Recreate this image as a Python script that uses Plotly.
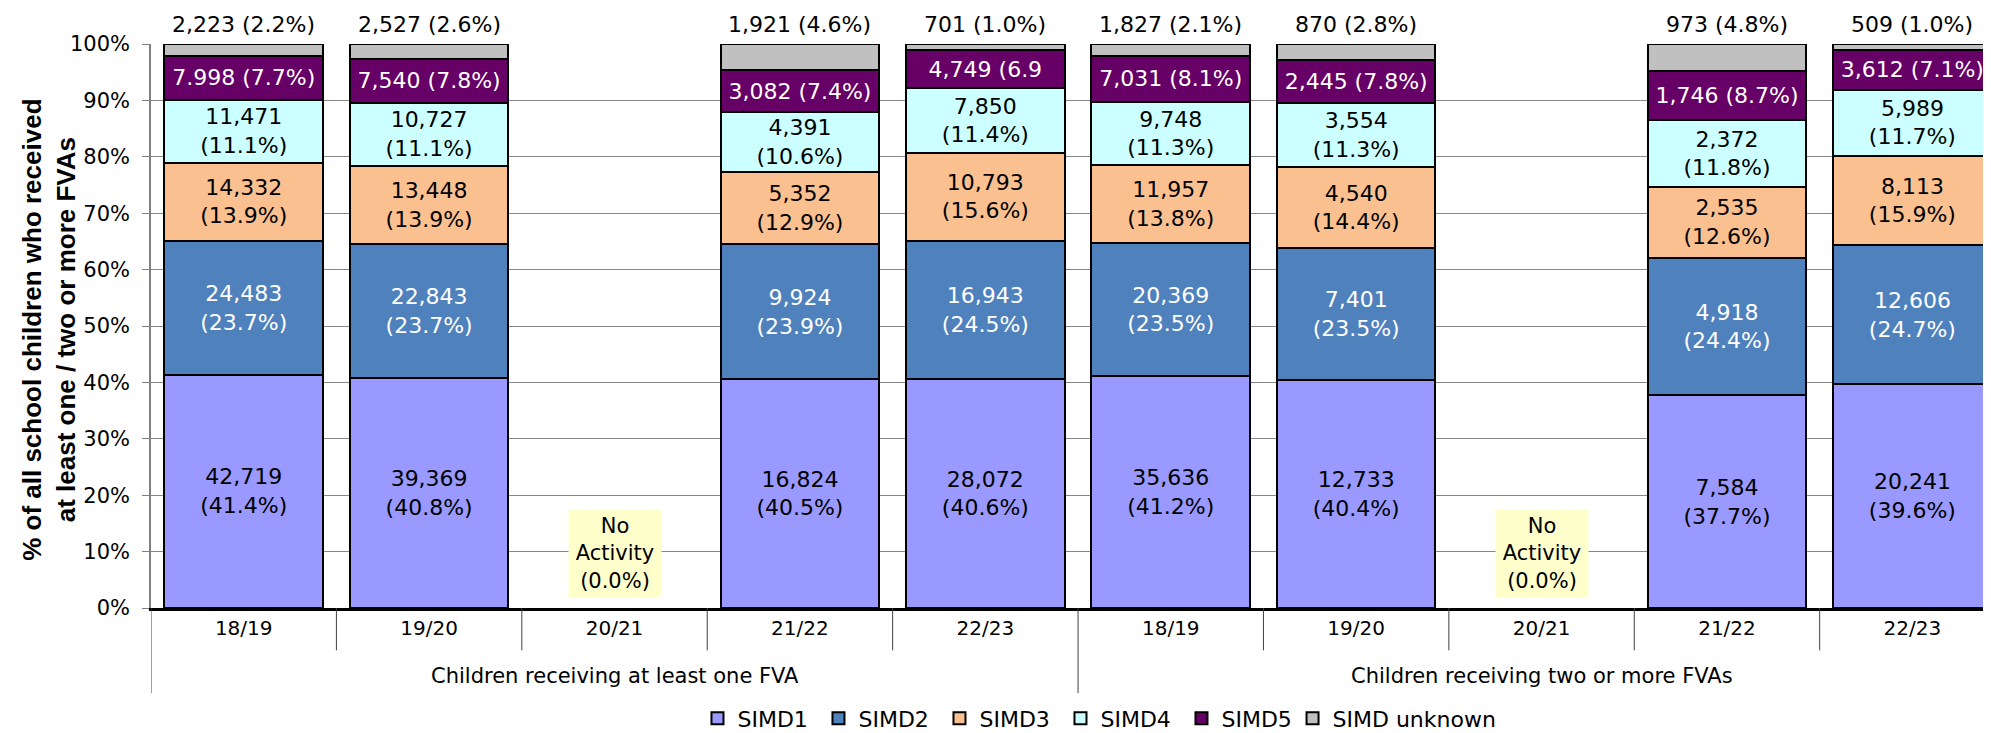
import plotly.graph_objects as go

# ---------------- data ----------------
groups = ["Children receiving at least one FVA"] * 5 + ["Children receiving two or more FVAs"] * 5
periods = ["18/19", "19/20", "20/21", "21/22", "22/23"] * 2

simd1 = [42719, 39369, None, 16824, 28072, 35636, 12733, None, 7584, 20241]
simd1_pct = [41.4, 40.8, None, 40.5, 40.6, 41.2, 40.4, None, 37.7, 39.6]
simd2 = [24483, 22843, None, 9924, 16943, 20369, 7401, None, 4918, 12606]
simd2_pct = [23.7, 23.7, None, 23.9, 24.5, 23.5, 23.5, None, 24.4, 24.7]
simd3 = [14332, 13448, None, 5352, 10793, 11957, 4540, None, 2535, 8113]
simd3_pct = [13.9, 13.9, None, 12.9, 15.6, 13.8, 14.4, None, 12.6, 15.9]
simd4 = [11471, 10727, None, 4391, 7850, 9748, 3554, None, 2372, 5989]
simd4_pct = [11.1, 11.1, None, 10.6, 11.4, 11.3, 11.3, None, 11.8, 11.7]
simd5 = [7998, 7540, None, 3082, 4749, 7031, 2445, None, 1746, 3612]
simd5_pct = [7.7, 7.8, None, 7.4, 6.9, 8.1, 7.8, None, 8.7, 7.1]
unknown = [2223, 2527, None, 1921, 701, 1827, 870, None, 973, 509]
unknown_pct = [2.2, 2.6, None, 4.6, 1.0, 2.1, 2.8, None, 4.8, 1.0]

# label text exactly as printed in the source (incl. its typos)
simd5_label_override = {0: "7.998 (7.7%)", 4: "4,749 (6.9"}

no_activity_label = "No<br>Activity<br>(0.0%)"
y_title = "% of all school children who received<br>at least one / two or more FVAs"

# ---------------- styling ----------------
FONT = "DejaVu Sans, Verdana, sans-serif"
TITLE_FONT = "Liberation Sans, Arial, sans-serif"
FS = 22
positions = list(range(len(periods)))


def two_line(c, p):
    return "" if c is None else f"{c:,}<br>({p:.1f}%)"


def one_line(c, p):
    return "" if c is None else f"{c:,} ({p:.1f}%)"


series = [
    ("SIMD1", simd1, simd1_pct, "#9999FF", "black", two_line),
    ("SIMD2", simd2, simd2_pct, "#4F81BD", "white", two_line),
    ("SIMD3", simd3, simd3_pct, "#FAC090", "black", two_line),
    ("SIMD4", simd4, simd4_pct, "#CCFFFF", "black", two_line),
    ("SIMD5", simd5, simd5_pct, "#660066", "white", one_line),
    ("SIMD unknown", unknown, unknown_pct, "#C0C0C0", "black", one_line),
]

fig = go.Figure()
annotations = []
for name, vals, pcts, color, tcolor, fmt in series:
    texts = [fmt(c, p) for c, p in zip(vals, pcts)]
    if name == "SIMD5":
        for k, v in simd5_label_override.items():
            texts[k] = v
    is_top = name == "SIMD unknown"
    fig.add_trace(go.Bar(
        name=name,
        x=positions,
        y=vals,
        width=0.855,
        marker=dict(color=color, line=dict(color="black", width=2)),
        text=None if is_top else texts,
        textposition="none" if is_top else "inside",
        insidetextanchor="middle",
        textangle=0,
        constraintext="none",
        textfont=dict(family=FONT, size=FS, color=tcolor),
        insidetextfont=dict(family=FONT, size=FS, color=tcolor),
        hoverinfo="skip",
        legend="legend2" if is_top else "legend",
    ))
    if is_top:
        # labels of the top (grey) segment sit above the 100% stack
        for i, t in zip(positions, texts):
            if t:
                annotations.append(dict(
                    x=i, xref="x", y=100, yref="y", text=t, showarrow=False,
                    xanchor="center", yanchor="bottom", yshift=5,
                    font=dict(family=FONT, size=FS, color="black"),
                ))

# group labels and dividers, derived from the category lists
shapes = []
group_names = list(dict.fromkeys(groups))
for g in group_names:
    idx = [i for i, gg in enumerate(groups) if gg == g]
    annotations.append(dict(
        x=(idx[0] + idx[-1]) / 2, xref="x", y=-0.121, yref="paper",
        text=g, showarrow=False, font=dict(family=FONT, size=21, color="black"),
        xanchor="center", yanchor="middle",
    ))
    shapes.append(dict(type="line", xref="x", yref="paper",
                       x0=idx[0] - 0.5, x1=idx[0] - 0.5, y0=0, y1=-0.151,
                       line=dict(color="#404040", width=1)))
for i in positions[1:]:
    if groups[i] == groups[i - 1]:
        shapes.append(dict(type="line", xref="x", yref="paper",
                           x0=i - 0.5, x1=i - 0.5, y0=0, y1=-0.075,
                           line=dict(color="#404040", width=1)))

# "No Activity" boxes at empty categories
for i in positions:
    if simd1[i] is None:
        annotations.append(dict(
            x=i, xref="x", y=9.6, yref="y", text=no_activity_label,
            showarrow=False, bgcolor="#FFFFCC", borderpad=4, width=84,
            font=dict(family=FONT, size=21, color="black"),
            xanchor="center", yanchor="middle",
        ))

# y-axis title
annotations.append(dict(
    x=-0.0555, xref="paper", y=0.493, yref="paper", text=y_title,
    textangle=-90, showarrow=False, xanchor="center", yanchor="middle",
    font=dict(family=TITLE_FONT, size=26, color="black", weight="bold"),
))

legend_common = dict(
    orientation="h", xanchor="left", y=-0.196, yanchor="middle",
    font=dict(family=FONT, size=FS, color="black"),
    itemwidth=30, traceorder="normal", bgcolor="rgba(0,0,0,0)",
)

# the page body has an 8px default margin, so the figure is sized/offset for it
fig.update_layout(
    barmode="stack",
    barnorm="percent",
    width=1983,
    height=725,
    margin=dict(l=143, r=0, t=36, b=125, autoexpand=False),
    paper_bgcolor="white",
    plot_bgcolor="white",
    font=dict(family=FONT, size=FS, color="black"),
    showlegend=True,
    legend=dict(x=0.297, entrywidth=76, **legend_common),
    legend2=dict(x=0.6204, **legend_common),
    xaxis=dict(
        range=[-0.5, 9.424],
        tickmode="array",
        tickvals=positions,
        ticktext=periods,
        ticks="",
        showgrid=False,
        zeroline=False,
        showline=True,
        linecolor="black",
        linewidth=3,
        automargin=False,
        tickfont=dict(family=FONT, size=20, color="black"),
    ),
    yaxis=dict(
        range=[0, 100],
        dtick=10,
        ticksuffix="%",
        showgrid=True,
        gridcolor="#868686",
        gridwidth=1,
        zeroline=False,
        showline=True,
        linecolor="#808080",
        linewidth=1.5,
        ticks="outside",
        ticklen=7,
        tickcolor="#808080",
        ticklabelstandoff=8,
        automargin=False,
        tickfont=dict(family=FONT, size=21, color="black"),
    ),
    annotations=annotations,
    shapes=shapes,
)

fig.write_html("out.html")
